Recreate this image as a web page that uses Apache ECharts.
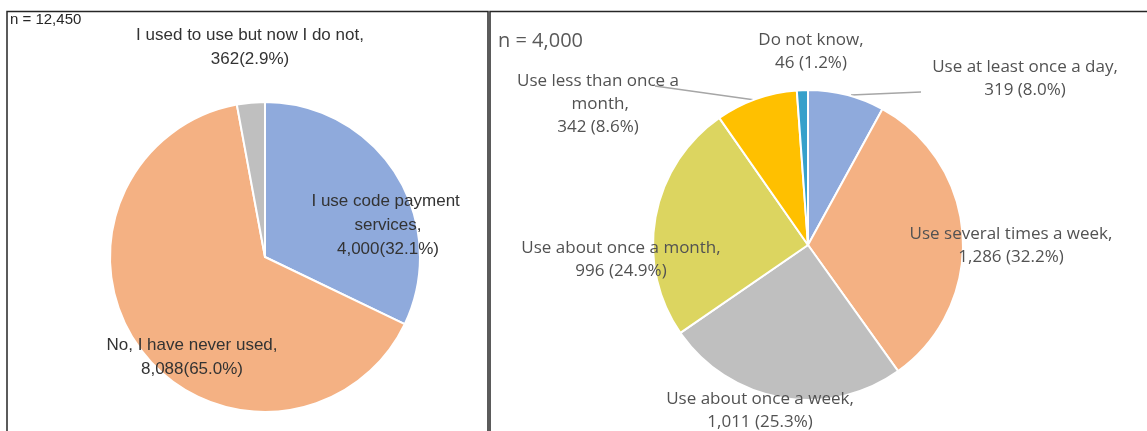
<!DOCTYPE html>
<html>
<head>
<meta charset="utf-8">
<script src="https://cdn.jsdelivr.net/npm/echarts@6/dist/echarts.min.js"></script>
<style>
  html, body { margin: 0; padding: 0; background: #ffffff; }
  #chart { width: 1147px; height: 431px; }
</style>
</head>
<body>
<div id="chart"></div>
<script>
// Code payment usage (all respondents)
const usageCategories = ['I use code payment services', 'No, I have never used', 'I used to use but now I do not'];
const usageValues = [4000, 8088, 362];
const usageColors = ['#8FAADC', '#F4B183', '#BFBFBF'];
const usageTotalLabel = 'n = 12,450';

// Frequency of use among users
const freqCategories = ['Use at least once a day', 'Use several times a week', 'Use about once a week',
  'Use about once a month', 'Use less than once a month', 'Do not know'];
const freqValues = [319, 1286, 1011, 996, 342, 46];
const freqColors = ['#8FAADC', '#F4B183', '#BFBFBF', '#DCD560', '#FFC000', '#36A0CB'];
const freqTotalLabel = 'n = 4,000';

// label anchor points (label block centres)
const usageLabelPos = [[388, 225], [192, 357], [250, 47]];
const freqLabelPos = [[1025, 79], [1011, 246], [760, 411], [621, 260], [598, 104], [811, 52]];

function pct(v, arr) {
  const total = arr.reduce((a, b) => a + b, 0);
  return (Math.round(v * 1000 / total) / 10).toFixed(1);
}
function fmt(v) { return v.toLocaleString('en-US'); }

const chart = echarts.init(document.getElementById('chart'), null, { renderer: 'canvas' });

const leftFont = '"Liberation Sans", Arial, sans-serif';
const rightFont = '"Open Sans", Lato, sans-serif';

chart.setOption({
  animation: false,
  backgroundColor: '#ffffff',
  graphic: [
    { type: 'rect', shape: { x: 7, y: 11.5, width: 481, height: 460 },
      style: { fill: 'none', stroke: '#262626', lineWidth: 1.5 } },
    { type: 'rect', shape: { x: 490, y: 11.5, width: 700, height: 460 },
      style: { fill: 'none', stroke: '#262626', lineWidth: 1.5 } },
    { type: 'text', left: 10, top: 12,
      style: { text: usageTotalLabel, font: '15px ' + leftFont, fill: '#262626' } },
    { type: 'text', left: 498, top: 31,
      style: { text: freqTotalLabel, font: '20px ' + rightFont, fill: '#595959' } },
    { type: 'line', shape: { x1: 655, y1: 86, x2: 755, y2: 100 },
      style: { stroke: '#A6A6A6', lineWidth: 1.3 } },
    { type: 'line', shape: { x1: 851, y1: 95, x2: 921, y2: 92 },
      style: { stroke: '#A6A6A6', lineWidth: 1.3 } }
  ],
  series: [
    {
      type: 'pie',
      center: [265, 257],
      radius: 155,
      startAngle: 90,
      clockwise: true,
      avoidLabelOverlap: false,
      itemStyle: { borderColor: '#ffffff', borderWidth: 2 },
      labelLine: { show: false },
      label: {
        show: true,
        position: 'outside',
        color: '#333333',
        fontFamily: leftFont,
        fontSize: 17,
        lineHeight: 24,
        align: 'center',
        formatter: p => p.name + ',\n' + fmt(p.value) + '(' + pct(p.value, usageValues) + '%)'
      },
      labelLayout: p => ({
        x: usageLabelPos[p.dataIndex][0], y: usageLabelPos[p.dataIndex][1],
        align: 'center', verticalAlign: 'middle'
      }),
      data: usageCategories.map((c, i) => {
        const d = { name: c, value: usageValues[i], itemStyle: { color: usageColors[i] } };
        if (i === 0) d.label = { width: 160, overflow: 'break' };
        return d;
      })
    },
    {
      type: 'pie',
      center: [808, 245],
      radius: 155,
      startAngle: 90,
      clockwise: true,
      avoidLabelOverlap: false,
      itemStyle: { borderColor: '#ffffff', borderWidth: 2 },
      labelLine: { show: false },
      label: {
        show: true,
        position: 'outside',
        color: '#525252',
        fontFamily: rightFont,
        fontSize: 17,
        lineHeight: 23,
        align: 'center',
        formatter: p => p.name + ',\n' + fmt(p.value) + ' (' + pct(p.value, freqValues) + '%)'
      },
      labelLayout: p => ({
        x: freqLabelPos[p.dataIndex][0], y: freqLabelPos[p.dataIndex][1],
        align: 'center', verticalAlign: 'middle'
      }),
      data: freqCategories.map((c, i) => {
        const d = { name: c, value: freqValues[i], itemStyle: { color: freqColors[i] } };
        if (i === 4) d.label = { width: 196, overflow: 'break' };
        return d;
      })
    }
  ]
});
</script>
</body>
</html>
